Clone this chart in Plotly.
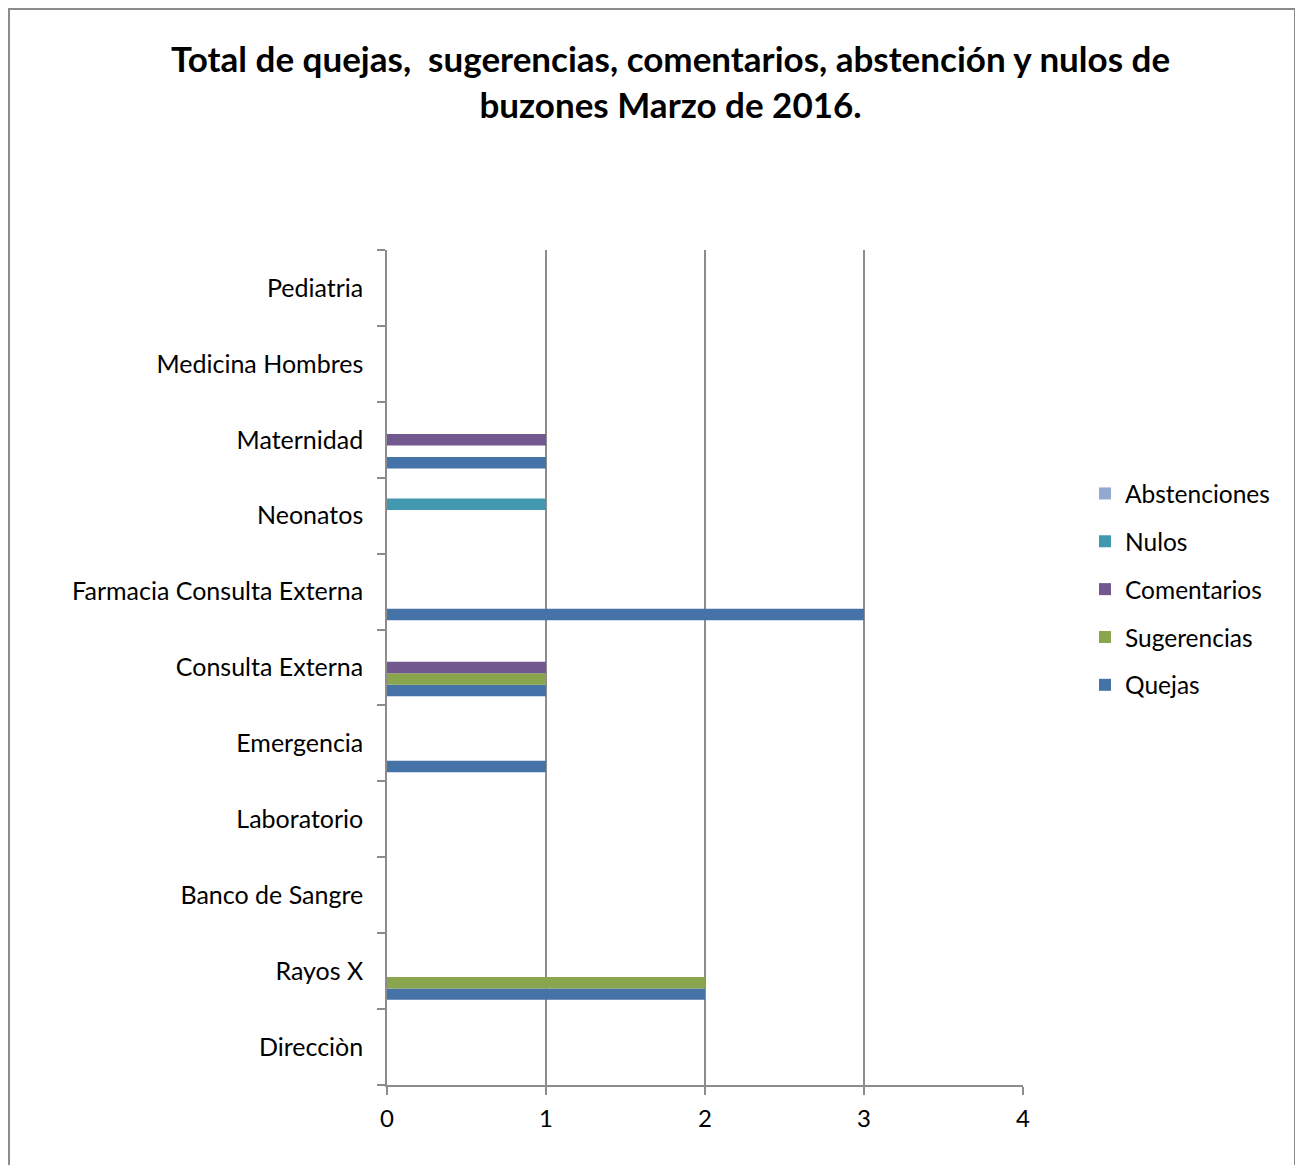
import plotly.graph_objects as go

categories = ["Direcciòn", "Rayos X", "Banco de Sangre", "Laboratorio", "Emergencia",
              "Consulta Externa", "Farmacia Consulta Externa", "Neonatos", "Maternidad",
              "Medicina Hombres", "Pediatria"]
quejas = [0, 2, 0, 0, 1, 1, 3, 0, 1, 0, 0]
sugerencias = [0, 2, 0, 0, 0, 1, 0, 0, 0, 0, 0]
comentarios = [0, 0, 0, 0, 0, 1, 0, 0, 1, 0, 0]
nulos = [0, 0, 0, 0, 0, 0, 0, 1, 0, 0, 0]
abstenciones = [0, 0, 0, 0, 0, 0, 0, 0, 0, 0, 0]

series = [("Quejas", quejas, "#4572A7"),
          ("Sugerencias", sugerencias, "#89A54E"),
          ("Comentarios", comentarios, "#71588F"),
          ("Nulos", nulos, "#4198AF"),
          ("Abstenciones", abstenciones, "#93A9CF")]

FONT = "Lato"
OFF = 8  # page body margin
W, H = 1303 - 2 * OFF + 2, 1173 - 2 * OFF
L, R, T, B = 387 - OFF, 1023 - OFF, 250 - OFF, 1085 - OFF

fig = go.Figure()
n = len(series)
for i, (name, vals, col) in enumerate(series):
    fig.add_trace(go.Bar(y=categories, x=vals, name=name, orientation="h",
                         marker=dict(color=col, line=dict(width=0)),
                         legendgroup=name, legendrank=n - i))

pw, ph = R - L, B - T
def px(x): return (x - OFF - L) / pw
def py(y): return 1 - (y - OFF - T) / ph

fig.add_shape(type="rect", xref="paper", yref="paper",
              x0=px(9), x1=px(1295), y0=py(1200), y1=py(9),
              line=dict(color="#8C8C8C", width=2), fillcolor="rgba(0,0,0,0)", layer="below")

fig.add_annotation(xref="paper", yref="paper", x=px(670), y=py(81), showarrow=False,
                   text="<b>Total de quejas,  sugerencias, comentarios, abstención y nulos de<br>buzones Marzo de 2016.</b>",
                   font=dict(family=FONT, size=35, color="#000000"), align="center",
                   xanchor="center", yanchor="middle")

fig.update_layout(
    width=W, height=H,
    margin=dict(l=L, r=W - R, t=T, b=H - B, pad=0),
    paper_bgcolor="white", plot_bgcolor="white",
    barmode="group", bargap=0.243, bargroupgap=0,
    font=dict(family=FONT, size=25, color="#000000"),
    showlegend=True,
    legend=dict(x=px(1085), y=py(471), xanchor="left", yanchor="top",
                traceorder="grouped", tracegroupgap=13,
                font=dict(family=FONT, size=24.5, color="#000000"),
                itemwidth=30, bgcolor="rgba(0,0,0,0)"),
)
fig.update_xaxes(range=[0, 4], dtick=1, showgrid=True, gridcolor="#8C8C8C", gridwidth=1.5,
                 showline=True, linecolor="#8C8C8C", linewidth=1.5,
                 ticks="outside", ticklen=8, tickcolor="#8C8C8C", tickwidth=1.5,
                 zeroline=False, tickfont=dict(size=24, family=FONT),
                 ticklabelstandoff=3, fixedrange=True)
fig.update_yaxes(type="category", categoryorder="array", categoryarray=categories,
                 showgrid=False, showline=True, linecolor="#8C8C8C", linewidth=1.5,
                 ticks="outside", ticklen=8, tickcolor="#8C8C8C", tickwidth=1.5,
                 tickson="boundaries", tickfont=dict(size=25, family=FONT),
                 ticklabelstandoff=17, fixedrange=True)

fig.write_html("out.html")
